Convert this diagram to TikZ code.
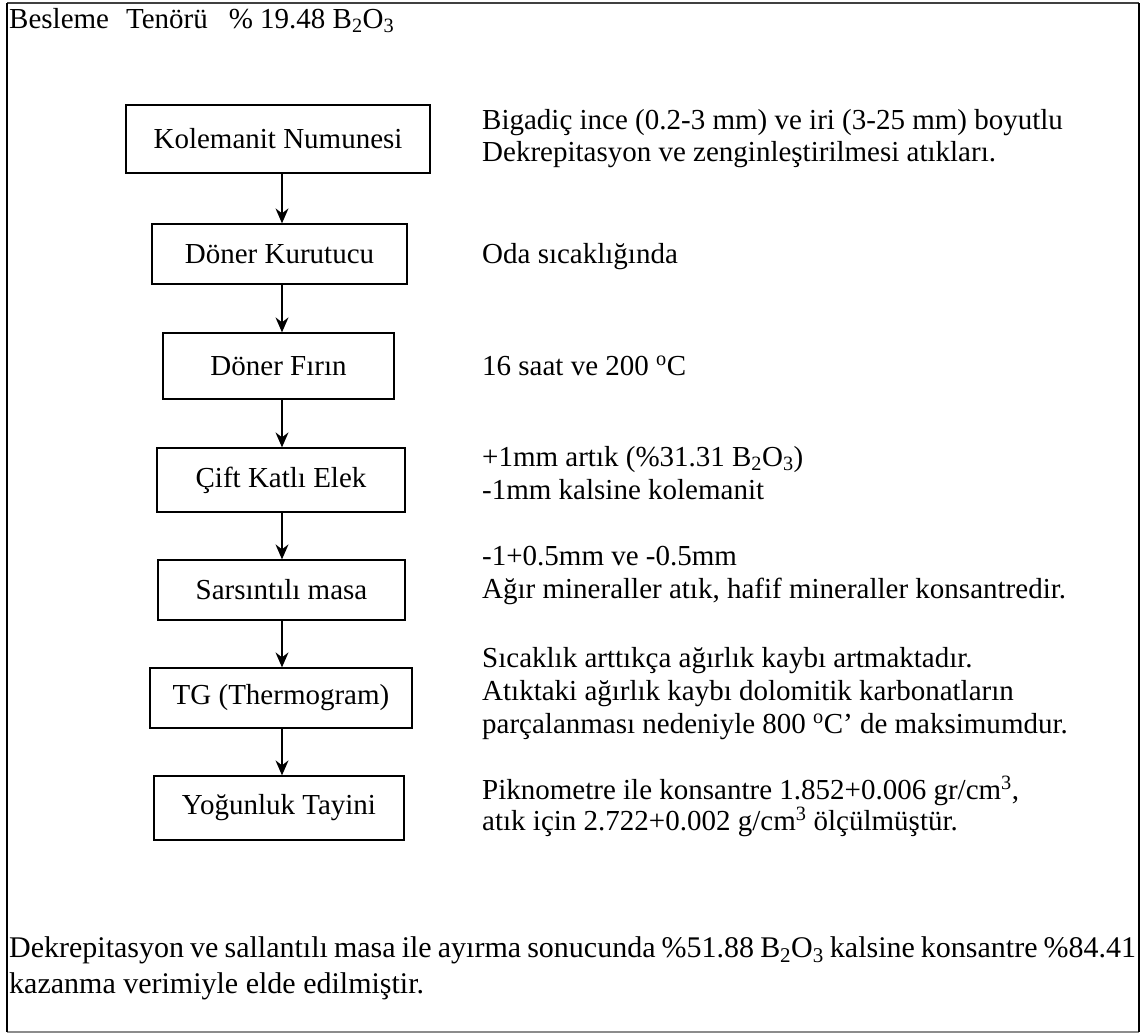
\documentclass[tikz,border=0pt]{standalone}
\usepackage{fontspec}
\setmainfont{Liberation Serif}
\usetikzlibrary{arrows.meta}
\begin{document}
\begin{tikzpicture}[x=1pt,y=-1pt,
  every node/.style={font=\fontsize{29}{33}\selectfont, inner sep=0pt},
  stepbox/.style={draw, line width=1.3pt, align=center},
  arr/.style={line width=1.3pt, -{Stealth[length=15pt,width=13pt,inset=5pt]}},
  rtext/.style={anchor=base west},
  btext/.style={anchor=base west, font=\fontsize{30}{34}\selectfont}]
\useasboundingbox (0,0) rectangle (1145,1034);
% outer frame
\coordinate (fa) at (7,3);
\coordinate (fb) at (1139,3);
\coordinate (fc) at (1139,1032);
\coordinate (fd) at (7,1032);
\draw[line width=1.6pt, black!75] (fa) -- (fb);
\draw[line width=1.4pt, black!45] (fd) -- (fc);
\draw[line width=2pt] (fa) -- (fd);
\draw[line width=2pt] (fb) -- (fc);
% header
\node[rtext] (hdr) at (9,28) {Besleme\hspace{17pt}Tenörü\hspace{21pt}\% 19.48 B\textsubscript{2}O\textsubscript{3}};
% process boxes
\node[stepbox, minimum width=304pt, minimum height=68pt] (b1) at (278,139) {Kolemanit Numunesi};
\node[stepbox, minimum width=255pt, minimum height=60pt] (b2) at (279.5,254) {Döner Kurutucu};
\node[stepbox, minimum width=231pt, minimum height=66pt] (b3) at (278.5,366) {Döner Fırın};
\node[stepbox, minimum width=248pt, minimum height=64pt] (b4) at (281,480) {Çift Katlı Elek};
\node[stepbox, minimum width=247pt, minimum height=60pt] (b5) at (281.5,590) {Sarsıntılı masa};
\node[stepbox, minimum width=262pt, minimum height=60pt] (b6) at (281,698) {TG (Thermogram)};
\node[stepbox, minimum width=250pt, minimum height=64pt] (b7) at (279,808) {Yoğunluk Tayini};
\coordinate (ax) at (282,0);
\draw[arr] (b1.south -| ax) -- (b2.north -| ax);
\draw[arr] (b2.south -| ax) -- (b3.north -| ax);
\draw[arr] (b3.south -| ax) -- (b4.north -| ax);
\draw[arr] (b4.south -| ax) -- (b5.north -| ax);
\draw[arr] (b5.south -| ax) -- (b6.north -| ax);
\draw[arr] (b6.south -| ax) -- (b7.north -| ax);
% right-hand notes
\node[rtext] (n1a) at (482,129) {Bigadiç ince (0.2-3 mm) ve iri (3-25 mm) boyutlu};
\node[rtext] (n1b) at (482,161) {Dekrepitasyon ve zenginleştirilmesi atıkları.};
\node[rtext] (n2) at (482,263) {Oda sıcaklığında};
\node[rtext] (n3) at (482,375) {16 saat ve 200 \textsuperscript{o}C};
\node[rtext] (n4a) at (482,466) {+1mm artık (\%31.31 B\textsubscript{2}O\textsubscript{3})};
\node[rtext] (n4b) at (482,499) {-1mm kalsine kolemanit};
\node[rtext] (n5a) at (482,565) {-1+0.5mm ve -0.5mm};
\node[rtext] (n5b) at (482,598) {Ağır mineraller atık, hafif mineraller konsantredir.};
\node[rtext] (n6a) at (482,667) {Sıcaklık arttıkça ağırlık kaybı artmaktadır.};
\node[rtext] (n6b) at (482,700) {Atıktaki ağırlık kaybı dolomitik karbonatların};
\node[rtext] (n6c) at (482,733) {parçalanması nedeniyle 800 \textsuperscript{o}C’ de maksimumdur.};
\node[rtext] (n7a) at (482,799) {Piknometre ile konsantre 1.852+0.006 gr/cm\textsuperscript{3},};
\node[rtext] (n7b) at (482,830) {atık için 2.722+0.002 g/cm\textsuperscript{3} ölçülmüştür.};
% conclusion
\node[btext] (c1) at (9,957) {\makebox[1127pt][s]{Dekrepitasyon ve sallantılı masa ile ayırma sonucunda \%51.88 B\textsubscript{2}O\textsubscript{3} kalsine konsantre \%84.41}};
\node[btext] (c2) at (9,993) {kazanma verimiyle elde edilmiştir.};
\end{tikzpicture}
\end{document}
